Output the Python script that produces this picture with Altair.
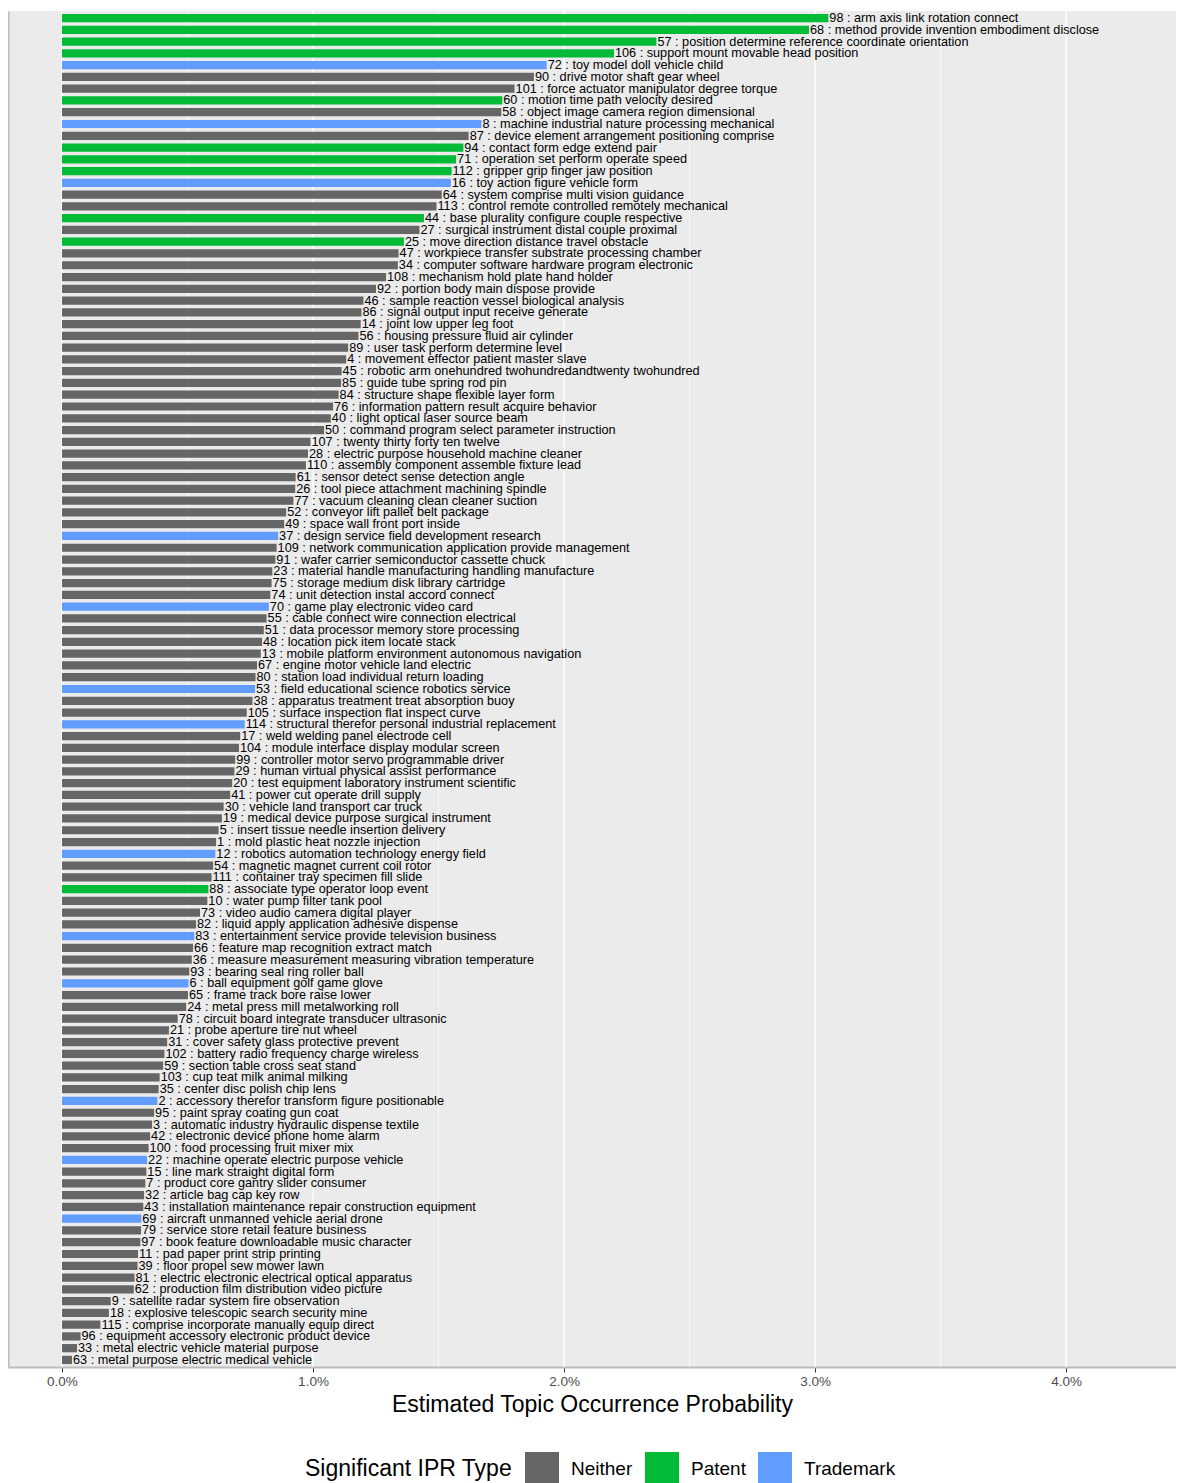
import altair as alt
import pandas as pd

topics = [98, 68, 57, 106, 72, 90, 101, 60, 58, 8, 87, 94, 71, 112, 16, 64, 113, 44, 27, 25,
          47, 34, 108, 92, 46, 86, 14, 56, 89, 4, 45, 85, 84, 76, 40, 50, 107, 28, 110, 61,
          26, 77, 52, 49, 37, 109, 91, 23, 75, 74, 70, 55, 51, 48, 13, 67, 80, 53, 38, 105,
          114, 17, 104, 99, 29, 20, 41, 30, 19, 5, 1, 12, 54, 111, 88, 10, 73, 82, 83, 66,
          36, 93, 6, 65, 24, 78, 21, 31, 102, 59, 103, 35, 2, 95, 3, 42, 100, 22, 15, 7,
          32, 43, 69, 79, 97, 11, 39, 81, 62, 9, 18, 115, 96, 33, 63]

terms = [
    "arm axis link rotation connect", "method provide invention embodiment disclose",
    "position determine reference coordinate orientation", "support mount movable head position",
    "toy model doll vehicle child", "drive motor shaft gear wheel",
    "force actuator manipulator degree torque", "motion time path velocity desired",
    "object image camera region dimensional", "machine industrial nature processing mechanical",
    "device element arrangement positioning comprise", "contact form edge extend pair",
    "operation set perform operate speed", "gripper grip finger jaw position",
    "toy action figure vehicle form", "system comprise multi vision guidance",
    "control remote controlled remotely mechanical", "base plurality configure couple respective",
    "surgical instrument distal couple proximal", "move direction distance travel obstacle",
    "workpiece transfer substrate processing chamber", "computer software hardware program electronic",
    "mechanism hold plate hand holder", "portion body main dispose provide",
    "sample reaction vessel biological analysis", "signal output input receive generate",
    "joint low upper leg foot", "housing pressure fluid air cylinder",
    "user task perform determine level", "movement effector patient master slave",
    "robotic arm onehundred twohundredandtwenty twohundred", "guide tube spring rod pin",
    "structure shape flexible layer form", "information pattern result acquire behavior",
    "light optical laser source beam", "command program select parameter instruction",
    "twenty thirty forty ten twelve", "electric purpose household machine cleaner",
    "assembly component assemble fixture lead", "sensor detect sense detection angle",
    "tool piece attachment machining spindle", "vacuum cleaning clean cleaner suction",
    "conveyor lift pallet belt package", "space wall front port inside",
    "design service field development research", "network communication application provide management",
    "wafer carrier semiconductor cassette chuck", "material handle manufacturing handling manufacture",
    "storage medium disk library cartridge", "unit detection instal accord connect",
    "game play electronic video card", "cable connect wire connection electrical",
    "data processor memory store processing", "location pick item locate stack",
    "mobile platform environment autonomous navigation", "engine motor vehicle land electric",
    "station load individual return loading", "field educational science robotics service",
    "apparatus treatment treat absorption buoy", "surface inspection flat inspect curve",
    "structural therefor personal industrial replacement", "weld welding panel electrode cell",
    "module interface display modular screen", "controller motor servo programmable driver",
    "human virtual physical assist performance", "test equipment laboratory instrument scientific",
    "power cut operate drill supply", "vehicle land transport car truck",
    "medical device purpose surgical instrument", "insert tissue needle insertion delivery",
    "mold plastic heat nozzle injection", "robotics automation technology energy field",
    "magnetic magnet current coil rotor", "container tray specimen fill slide",
    "associate type operator loop event", "water pump filter tank pool",
    "video audio camera digital player", "liquid apply application adhesive dispense",
    "entertainment service provide television business", "feature map recognition extract match",
    "measure measurement measuring vibration temperature", "bearing seal ring roller ball",
    "ball equipment golf game glove", "frame track bore raise lower",
    "metal press mill metalworking roll", "circuit board integrate transducer ultrasonic",
    "probe aperture tire nut wheel", "cover safety glass protective prevent",
    "battery radio frequency charge wireless", "section table cross seat stand",
    "cup teat milk animal milking", "center disc polish chip lens",
    "accessory therefor transform figure positionable", "paint spray coating gun coat",
    "automatic industry hydraulic dispense textile", "electronic device phone home alarm",
    "food processing fruit mixer mix", "machine operate electric purpose vehicle",
    "line mark straight digital form", "product core gantry slider consumer",
    "article bag cap key row", "installation maintenance repair construction equipment",
    "aircraft unmanned vehicle aerial drone", "service store retail feature business",
    "book feature downloadable music character", "pad paper print strip printing",
    "floor propel sew mower lawn", "electric electronic electrical optical apparatus",
    "production film distribution video picture", "satellite radar system fire observation",
    "explosive telescopic search security mine", "comprise incorporate manually equip direct",
    "equipment accessory electronic product device", "metal electric vehicle material purpose",
    "metal purpose electric medical vehicle",
]

# estimated probability in percent
probs = [3.053, 2.976, 2.368, 2.199, 1.931, 1.880, 1.803, 1.754, 1.750, 1.671,
         1.620, 1.599, 1.570, 1.552, 1.549, 1.513, 1.492, 1.442, 1.424, 1.362,
         1.341, 1.338, 1.291, 1.251, 1.201, 1.193, 1.190, 1.181, 1.140, 1.132,
         1.114, 1.112, 1.102, 1.080, 1.071, 1.044, 0.990, 0.980, 0.972, 0.931,
         0.929, 0.922, 0.893, 0.885, 0.861, 0.855, 0.850, 0.838, 0.835, 0.830,
         0.824, 0.815, 0.804, 0.797, 0.792, 0.777, 0.771, 0.769, 0.759, 0.736,
         0.728, 0.710, 0.705, 0.690, 0.687, 0.678, 0.670, 0.644, 0.637, 0.624,
         0.614, 0.611, 0.602, 0.596, 0.583, 0.579, 0.550, 0.534, 0.527, 0.522,
         0.517, 0.507, 0.504, 0.502, 0.495, 0.461, 0.426, 0.419, 0.408, 0.403,
         0.389, 0.385, 0.380, 0.367, 0.359, 0.351, 0.345, 0.339, 0.336, 0.332,
         0.327, 0.324, 0.316, 0.315, 0.312, 0.303, 0.301, 0.289, 0.286, 0.194,
         0.187, 0.153, 0.074, 0.060, 0.040]

patent_topics = [98, 68, 57, 106, 60, 94, 71, 112, 44, 25, 88]
trademark_topics = [72, 8, 16, 37, 70, 53, 114, 12, 83, 6, 2, 22, 69]

types = ["Patent" if t in patent_topics else ("Trademark" if t in trademark_topics else "Neither")
         for t in topics]
labels = [f"{t} : {w}" for t, w in zip(topics, terms)]

df = pd.DataFrame({"topic": [str(t) for t in topics], "label": labels,
                   "prob": probs, "ipr": types})

major_grid = [0.0, 1.0, 2.0, 3.0, 4.0]
minor_grid = [0.5, 1.5, 2.5, 3.5]
grid_df = pd.DataFrame({"g": major_grid + minor_grid,
                        "kind": ["major"] * len(major_grid) + ["minor"] * len(minor_grid)})

FONT = "Liberation Sans"
xscale = alt.Scale(domain=[-0.2151, 4.438], nice=False, zero=False)
order = [str(t) for t in topics]
yenc = alt.Y("topic:N", sort=order,
             scale=alt.Scale(paddingInner=0.3, paddingOuter=0.25),
             axis=alt.Axis(labels=False, ticks=False, title=None, domain=True,
                           domainColor="#BDBDBD", domainWidth=2))

grid = alt.Chart(grid_df).mark_rule(color="white").encode(
    x=alt.X("g:Q", scale=xscale),
    strokeWidth=alt.StrokeWidth("kind:N", scale=alt.Scale(domain=["major", "minor"], range=[1.4, 0.7]),
                                legend=None),
)

bars = alt.Chart(df).mark_bar().encode(
    x=alt.X("prob:Q", scale=xscale,
            axis=alt.Axis(values=major_grid, grid=False,
                          labelExpr="format(datum.value, '.1f') + '%'",
                          title="Estimated Topic Occurrence Probability",
                          labelFont=FONT, labelFontSize=13.5, labelColor="#4D4D4D",
                          labelPadding=2, tickSize=5, tickColor="#333333",
                          domainColor="#BDBDBD", domainWidth=2,
                          titleFont=FONT, titleFontSize=23, titleFontWeight="normal",
                          titleColor="#000000", titlePadding=6)),
    y=yenc,
    color=alt.Color("ipr:N",
                    scale=alt.Scale(domain=["Neither", "Patent", "Trademark"],
                                    range=["#666666", "#00BA38", "#619CFF"]),
                    legend=alt.Legend(title="Significant IPR Type", orient="none",
                                      direction="horizontal", titleOrient="left",
                                      legendX=297, legendY=1441,
                                      symbolType="square", symbolSize=1156,
                                      symbolStrokeWidth=0, symbolOpacity=1,
                                      labelFont=FONT, labelFontSize=19, labelColor="#000000",
                                      labelOffset=12, columnPadding=12,
                                      titleFont=FONT, titleFontSize=23, titleFontWeight="normal",
                                      titleColor="#000000", titlePadding=12, titleLimit=500)),
)

text = alt.Chart(df).mark_text(align="left", baseline="middle", dx=1, font=FONT,
                               fontSize=12.7, color="#000000").encode(
    x=alt.X("prob:Q", scale=xscale),
    y=alt.Y("topic:N", sort=order),
    text="label:N",
)

chart = alt.layer(grid, bars, text).properties(
    width=1168, height=1356,
    padding={"left": 0, "top": 2, "right": 0, "bottom": 0},
    background="white",
).configure_view(fill="#EBEBEB", stroke=None)

chart.save("out.html", embed_options={"renderer": "svg", "actions": False})
